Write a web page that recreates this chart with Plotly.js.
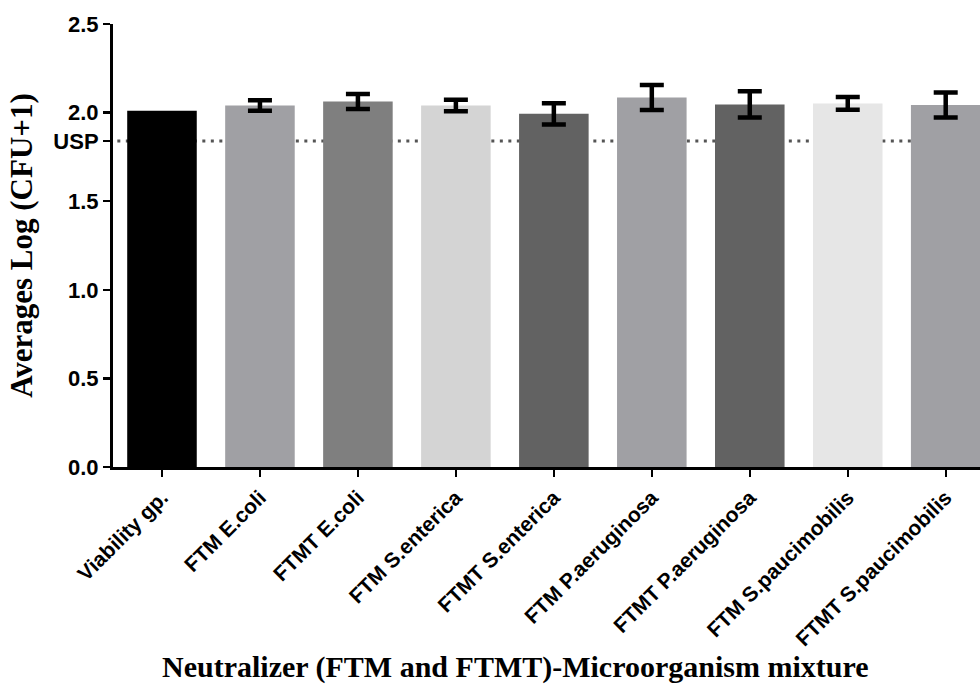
<!DOCTYPE html>
<html>
<head>
<meta charset="utf-8">
<script src="https://cdn.plot.ly/plotly-3.0.1.min.js"></script>
<style>
html,body{margin:0;padding:0;background:#fff;}
#chart{width:980px;height:692px;}
</style>
</head>
<body>
<div id="chart"></div>
<script>
// ---- data ----
var categories = ["Viability gp.", "FTM E.coli", "FTMT E.coli", "FTM S.enterica", "FTMT S.enterica",
                  "FTM P.aeruginosa", "FTMT P.aeruginosa", "FTM S.paucimobilis", "FTMT S.paucimobilis"];
var means  = [2.01, 2.04, 2.063, 2.04, 1.993, 2.085, 2.046, 2.052, 2.043];
// NaN = no error bar drawn for the viability group
var errors = [NaN, 0.03, 0.042, 0.032, 0.06, 0.071, 0.074, 0.036, 0.07];
var uspValue = 1.84;
var yTickVals = [0, 0.5, 1.0, 1.5, 1.84, 2.0, 2.5];
var yTickText = ["0.0", "0.5", "1.0", "1.5", "USP", "2.0", "2.5"];

// ---- styles ----
var barColors = ["#000000", "#a0a0a4", "#7f7f7f", "#d4d4d4", "#626262",
                 "#a0a0a4", "#626262", "#e6e6e6", "#a0a0a4"];

var trace = {
  type: "bar",
  x: categories,
  y: means,
  marker: {color: barColors, line: {width: 0}},
  error_y: {type: "data", array: errors, visible: true, color: "#000", thickness: 4.5, width: 12},
  width: 0.71,
  hoverinfo: "x+y"
};

var layout = {
  width: 980, height: 692,
  paper_bgcolor: "#fff", plot_bgcolor: "#fff",
  margin: {l: 113, r: 0, t: 24, b: 225},
  showlegend: false,
  xaxis: {
    type: "category",
    range: [-0.5, 8.35],
    showline: true, linecolor: "#000", linewidth: 3,
    ticks: "outside", ticklen: 7, tickwidth: 2, tickcolor: "#000",
    tickangle: -45,
    tickfont: {family: "Liberation Sans, Arial, sans-serif", size: 21, color: "#000", weight: "bold"},
    showgrid: false, zeroline: false, fixedrange: true
  },
  yaxis: {
    range: [0, 2.5],
    tickvals: yTickVals, ticktext: yTickText,
    showline: true, linecolor: "#000", linewidth: 3,
    ticks: "outside", ticklen: 7, tickwidth: 2.5, tickcolor: "#000",
    tickfont: {family: "Liberation Sans, Arial, sans-serif", size: 22, color: "#000", weight: "bold"},
    showgrid: false, zeroline: false, fixedrange: true,
    title: {text: "Averages Log (CFU+1)", standoff: 12,
            font: {family: "Liberation Serif, Times New Roman, serif", size: 31, color: "#000", weight: "bold"}}
  },
  shapes: [{
    type: "line", xref: "paper", x0: 0.005, x1: 1, yref: "y", y0: uspValue, y1: uspValue,
    layer: "below", line: {color: "#555", width: 3, dash: "3px,5.5px"}
  }],
  annotations: [{
    text: "Neutralizer (FTM and FTMT)-Microorganism mixture",
    xref: "paper", yref: "paper", x: 0.464, y: -0.451, xanchor: "center", yanchor: "middle",
    showarrow: false,
    font: {family: "Liberation Serif, Times New Roman, serif", size: 30, color: "#000", weight: "bold"}
  }]
};

Plotly.newPlot("chart", [trace], layout, {displayModeBar: false, staticPlot: true});
</script>
</body>
</html>
